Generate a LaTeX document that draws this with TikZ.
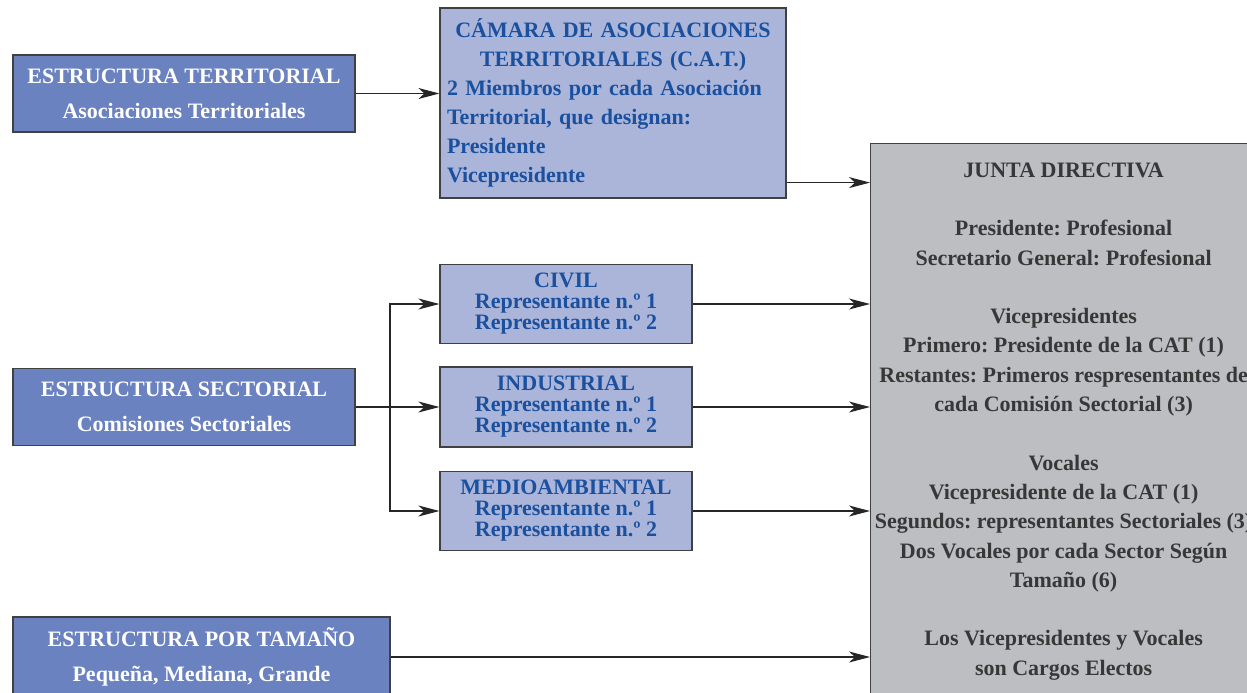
\documentclass[tikz,border=0pt]{standalone}
\usepackage{fontspec}
\setmainfont{Liberation Serif}
\frenchspacing
\usetikzlibrary{arrows.meta, positioning, calc}
\definecolor{orgdark}{RGB}{107,130,192}
\definecolor{orglight}{RGB}{171,181,218}
\definecolor{orgbluetxt}{RGB}{26,80,158}
\definecolor{orggray}{RGB}{189,190,194}
\definecolor{orggraytxt}{RGB}{55,55,55}
\tikzset{
  orgblock/.style={rectangle, draw=black!75, line width=1.2pt, inner sep=0pt,
                   align=center, font=\bfseries\fontsize{22}{29}\selectfont},
  orgstruct/.style={orgblock, fill=orgdark, text=white,
                    minimum width=342pt, minimum height=77pt,
                    font=\bfseries\fontsize{22}{35}\selectfont},
  orgcamara/.style={orgblock, fill=orglight, text=orgbluetxt},
  orgsector/.style={orgcamara, minimum width=252pt, minimum height=79pt,
                    font=\bfseries\fontsize{22}{21}\selectfont},
  orgjunta/.style={orgblock, fill=orggray, text=orggraytxt},
  orgline/.style={line width=1.2pt, black!85},
  orgarrow/.style={orgline, -{Stealth[length=21pt, width=11pt, inset=6pt]}},
}

\begin{document}
\begin{tikzpicture}[x=1pt, y=-1pt]
  \useasboundingbox (0,0) rectangle (1247,693);
  % left column
  \node[orgstruct] (terr) at (184, 93.5)
    {ESTRUCTURA TERRITORIAL\\Asociaciones Territoriales};
  \node[orgstruct] (sect) at (184, 407)
    {ESTRUCTURA SECTORIAL\\Comisiones Sectoriales};
  \node[orgstruct, minimum width=377pt, minimum height=80pt] (tam) at (201.5, 657)
    {ESTRUCTURA POR TAMAÑO\\Pequeña, Mediana, Grande};
  % middle column
  \node[orgcamara, minimum width=346pt, minimum height=190pt,
        text width=332pt, align=left] (cat) at (613, 103)
    {\makebox[\linewidth]{CÁMARA DE ASOCIACIONES}\\
     \makebox[\linewidth]{TERRITORIALES (C.A.T.)}\\
     2 Miembros por cada Asociación\\
     Territorial, que designan:\\
     Presidente\\
     Vicepresidente};
  \node[orgsector] (civil) at (566, 304)
    {CIVIL\\Representante n.º 1\\Representante n.º 2};
  \node[orgsector, minimum height=80pt] (indus) at (566, 407)
    {INDUSTRIAL\\Representante n.º 1\\Representante n.º 2};
  \node[orgsector] (medio) at (566, 511)
    {MEDIOAMBIENTAL\\Representante n.º 1\\Representante n.º 2};
  % right column
  \node[orgjunta, anchor=north west] (junta) at (870, 143)
    {\begin{minipage}[t][600pt][t]{386pt}\centering
     \baselineskip=29.3pt
     \vspace*{19pt}%
     JUNTA DIRECTIVA\\[29.3pt]
     Presidente: Profesional\\
     Secretario General: Profesional\\[29.3pt]
     Vicepresidentes\\
     Primero: Presidente de la CAT (1)\\
     Restantes: Primeros respresentantes de\\
     cada Comisión Sectorial (3)\\[29.3pt]
     Vocales\\
     Vicepresidente de la CAT (1)\\
     Segundos: representantes Sectoriales (3)\\
     Dos Vocales por cada Sector Según\\
     Tamaño (6)\\[29.3pt]
     Los Vicepresidentes y Vocales\\
     son Cargos Electos
     \end{minipage}};
  \coordinate (split) at (390, 407);
  % connectors
  \draw[orgarrow] (terr) -- (terr -| cat.west);
  \draw[orgarrow] ([yshift=16pt]cat.south east) -- ([yshift=16pt]cat.south east -| junta.west);
  \draw[orgline] (sect) -- (split);
  \draw[orgarrow] (split) |- (civil);
  \draw[orgarrow] (split) -- (indus);
  \draw[orgarrow] (split) |- (medio);
  \draw[orgarrow] (civil) -- (civil -| junta.west);
  \draw[orgarrow] (indus) -- (indus -| junta.west);
  \draw[orgarrow] (medio) -- (medio -| junta.west);
  \draw[orgarrow] (tam) -- (tam -| junta.west);
\end{tikzpicture}
\end{document}
